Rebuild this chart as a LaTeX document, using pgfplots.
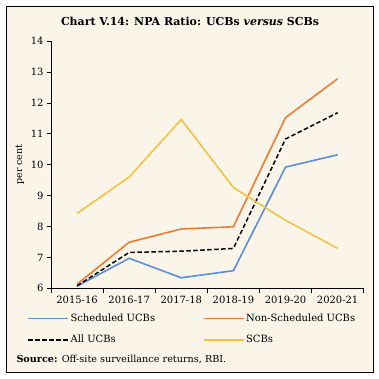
\documentclass[border=0pt]{standalone}
\usepackage{pgfplots}
\pgfplotsset{compat=1.18}
\usepackage{fontspec}
\setmainfont{DejaVu Serif}
\definecolor{bg}{HTML}{FAF4E9}
\definecolor{cblue}{HTML}{5B8ED6}
\definecolor{corange}{HTML}{ED7D31}
\definecolor{cyellow}{HTML}{F5C342}
\begin{document}
\begin{tikzpicture}[x=1bp,y=1bp]
\path[fill=white] (0,0) rectangle (379,379);
\draw[fill=bg, line width=0.9bp] (6,7) rectangle (373,373);
\node[font=\fontsize{11}{13}\selectfont\bfseries] at (190,357.5) {Chart V.14: NPA Ratio: UCBs \textit{versus} SCBs};
\begin{axis}[
  at={(51bp,90.7bp)}, anchor=south west,
  scale only axis, width=312.7bp, height=247.3bp,
  xmin=-0.5, xmax=5.5, ymin=6, ymax=14,
  ytick={6,7,...,14},
  xtick={0,1,2,3,4,5},
  xticklabels={2015-16,2016-17,2017-18,2018-19,2019-20,2020-21},
  minor xtick={-0.5,0.5,...,5.5},
  major x tick style={draw=none},
  axis x line*=bottom, axis y line*=left,
  axis line style={black, line width=0.6bp},
  tick align=outside,
  tick style={black, line width=0.6bp},
  major tick length=4bp, minor tick length=5bp,
  tick label style={font=\fontsize{10}{12}\selectfont},
  /pgf/number format/assume math mode=true,
  ylabel={per cent},
  every axis y label/.style={at={(axis description cs:-0.0991,0.5)},rotate=90,anchor=center,font=\fontsize{9.5}{11}\selectfont},
  legend columns=2,
  legend cell align=left,
  legend image code/.code={\draw[#1, line width=1.9bp] (0bp,0bp) -- (40bp,0bp);},
  legend style={at={(axis description cs:-0.0768,-0.097)}, anchor=north west, draw=none, fill=none, inner sep=0pt,
    font=\fontsize{10}{12}\selectfont, row sep=9bp,
    nodes={inner sep=1.5bp},
    /tikz/every even column/.append style={column sep=46bp}},
]
\addplot[cblue, line width=1.6bp] coordinates {(0,6.07)(1,6.97)(2,6.34)(3,6.57)(4,9.92)(5,10.32)};
\addlegendentry{Scheduled UCBs}
\addplot[corange, line width=1.6bp] coordinates {(0,6.13)(1,7.49)(2,7.92)(3,7.99)(4,11.52)(5,12.78)};
\addlegendentry{Non-Scheduled UCBs}
\addplot[black, line width=1.5bp, dash pattern=on 4.5bp off 2.5bp] coordinates {(0,6.08)(1,7.16)(2,7.20)(3,7.29)(4,10.83)(5,11.68)};
\addlegendentry{All UCBs}
\addplot[cyellow, line width=1.6bp] coordinates {(0,8.42)(1,9.60)(2,11.46)(3,9.26)(4,8.20)(5,7.29)};
\addlegendentry{SCBs}
\end{axis}
\node[anchor=west, font=\fontsize{9.7}{11}\selectfont] at (13,20) {\textbf{Source:} Off-site surveillance returns, RBI.};
\end{tikzpicture}
\end{document}
